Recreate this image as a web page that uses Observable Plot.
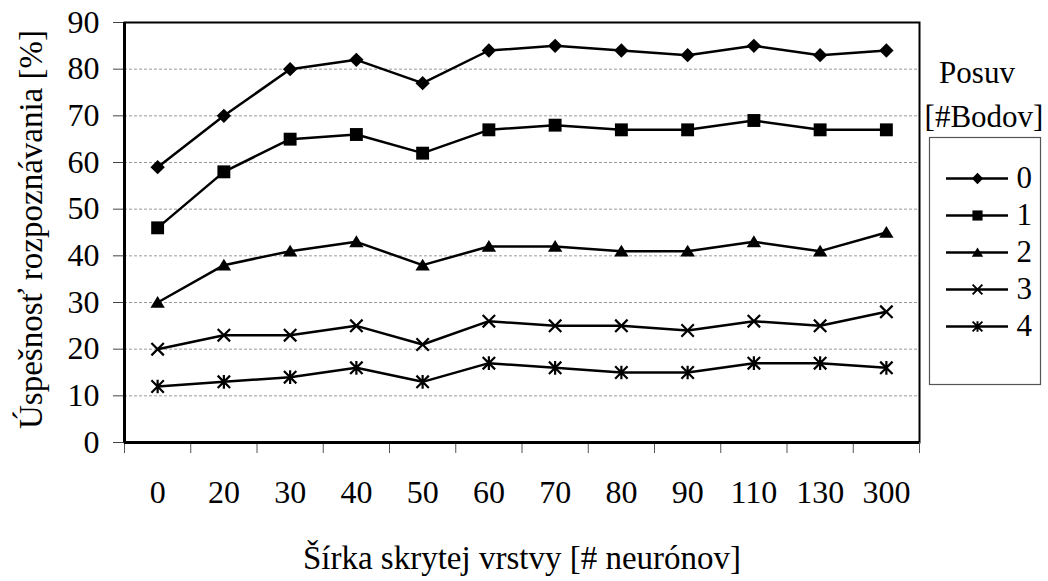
<!DOCTYPE html>
<html><head><meta charset="utf-8">
<script src="https://cdn.jsdelivr.net/npm/d3@7"></script>
<script src="https://cdn.jsdelivr.net/npm/@observablehq/plot@0.6"></script>
<style>
body{margin:0;background:#fff}
#wrap{position:relative;width:1048px;height:581px;font-family:"Liberation Serif","Times New Roman",Times,serif;color:#000}
#wrap svg, #wrap svg text{font-family:"Liberation Serif","Times New Roman",Times,serif !important}
.lt{position:absolute;font-size:31px;line-height:1;transform:translate(-50%,-50%);white-space:nowrap}
</style>
</head><body><div id="wrap"></div>
<script>
const categories = ["0","20","30","40","50","60","70","80","90","110","130","300"];
const seriesNames = ["0","1","2","3","4"];
const series0 = [59,70,80,82,77,84,85,84,83,85,83,84];
const series1 = [46,58,65,66,62,67,68,67,67,69,67,67];
const series2 = [30,38,41,43,38,42,42,41,41,43,41,45];
const series3 = [20,23,23,25,21,26,25,25,24,26,25,28];
const series4 = [12,13,14,16,13,17,16,15,15,17,17,16];
const yTicks = [0,10,20,30,40,50,60,70,80,90];
const gridTicks = [10,20,30,40,50,60,70,80];
const xTitle = "Šírka skrytej vrstvy [# neurónov]";
const yTitle = "Úspešnosť rozpoznávania [%]";
const legendTitle1 = "Posuv";
const legendTitle2 = "[#Bodov]";

const FONT = "'Liberation Serif', 'Times New Roman', Times, serif";

const allSeries = [series0, series1, series2, series3, series4];
const rows = [];
allSeries.forEach((vals, s) => vals.forEach((v, i) => rows.push({i, cat: categories[i], series: seriesNames[s], value: v})));
const filledSet = new Set(["0","1","2"]);

const diamondSym = {draw(c, size){const h=Math.sqrt(size)*0.58; c.moveTo(0,-h);c.lineTo(h,0);c.lineTo(0,h);c.lineTo(-h,0);c.closePath();}};
const squareSym = {draw(c, size){const h=Math.sqrt(size)*0.52; c.rect(-h,-h,2*h,2*h);}};
const triangleSym = {draw(c, size){const w=Math.sqrt(size)*0.58, h=Math.sqrt(size)*0.95; c.moveTo(0,-h*0.55);c.lineTo(w,h*0.45);c.lineTo(-w,h*0.45);c.closePath();}};
const timesSym = {draw(c, size){const h=Math.sqrt(size)*0.5; c.moveTo(-h,-h);c.lineTo(h,h);c.moveTo(h,-h);c.lineTo(-h,h);}};
const asteriskSym = {draw(c, size){const h=Math.sqrt(size)*0.5; c.moveTo(-h,-h);c.lineTo(h,h);c.moveTo(h,-h);c.lineTo(-h,h);c.moveTo(0,-h*1.1);c.lineTo(0,h*1.1);}};
const symbolRange = [diamondSym, squareSym, triangleSym, timesSym, asteriskSym];

const boundaries = d3.range(13).map(k => k - 0.5);
const centers = d3.range(12);

const chart = Plot.plot({
  width: 1048, height: 581,
  marginLeft: 124, marginRight: 129, marginTop: 22, marginBottom: 139,
  x: {type: "linear", domain: [-0.5, 11.5], axis: null},
  y: {domain: [0, 90], axis: null},
  symbol: {domain: seriesNames, range: symbolRange},
  style: {fontFamily: FONT, fontSize: "32px", color: "black", background: "white"},
  marks: [
    Plot.gridY(gridTicks, {stroke: "#9a9a9a", strokeOpacity: 1, strokeDasharray: "3,2", strokeWidth: 1}),
    Plot.frame({stroke: "black", strokeWidth: 2}),
    Plot.axisY({ticks: yTicks, tickSize: 11, tickPadding: 14, tickFormat: d => String(d), fontSize: 32, label: null, stroke: "#444"}),
    Plot.axisX({ticks: boundaries, tickSize: 11, tickFormat: () => "", label: null, stroke: "#555"}),
    Plot.axisX({ticks: centers, tickSize: 0, tickPadding: 38, tickFormat: i => categories[i], fontSize: 32, label: null}),
    Plot.ruleY([0], {stroke: "black", strokeWidth: 3}),
    Plot.ruleX([-0.5], {stroke: "black", strokeWidth: 3}),
    Plot.line(rows, {x: "i", y: "value", z: "series", stroke: "black", strokeWidth: 2.5}),
    Plot.dot(rows.filter(d => filledSet.has(d.series)), {x: "i", y: "value", symbol: "series", r: 7, fill: "black", stroke: "none"}),
    Plot.dot(rows.filter(d => !filledSet.has(d.series)), {x: "i", y: "value", symbol: "series", r: 7, fill: "none", stroke: "black", strokeWidth: 2.2}),
    Plot.text([xTitle], {frameAnchor: "bottom", dy: 116, lineAnchor: "middle", fontSize: 33}),
    Plot.text([yTitle], {frameAnchor: "left", dx: -93, dy: -3, rotate: -90, lineAnchor: "middle", textAnchor: "middle", fontSize: 33})
  ]
});

const legend = Plot.plot({
  width: 113, height: 249,
  margin: 1,
  x: {type: "linear", domain: [0, 1], range: [18, 80], axis: null},
  y: {type: "point", domain: seriesNames, range: [23, 209], axis: null},
  symbol: {domain: seriesNames, range: symbolRange},
  style: {fontFamily: FONT, fontSize: "31px", color: "black", background: "white", overflow: "visible"},
  marks: [
    Plot.frame({stroke: "#555", strokeWidth: 1.2}),
    Plot.ruleY(seriesNames, {y: d => d, x1: 0, x2: 1, stroke: "black", strokeWidth: 2.5}),
    Plot.dot(seriesNames.filter(s => filledSet.has(s)), {x: () => 0.5, y: d => d, symbol: d => d, r: 5.5, fill: "black", stroke: "none"}),
    Plot.dot(seriesNames.filter(s => !filledSet.has(s)), {x: () => 0.5, y: d => d, symbol: d => d, r: 5.5, fill: "none", stroke: "black", strokeWidth: 2}),
    Plot.text(seriesNames, {x: () => 1, y: d => d, text: d => d, textAnchor: "start", dx: 8, fontSize: 31})
  ]
});

const wrap = document.getElementById("wrap");
wrap.appendChild(chart);
legend.style.position = "absolute";
legend.style.left = "928px";
legend.style.top = "136px";
wrap.appendChild(legend);
const t1 = document.createElement("div"); t1.className = "lt"; t1.textContent = legendTitle1; t1.style.left = "977px"; t1.style.top = "72px";
const t2 = document.createElement("div"); t2.className = "lt"; t2.textContent = legendTitle2; t2.style.left = "984px"; t2.style.top = "116px";
wrap.appendChild(t1); wrap.appendChild(t2);
</script>
</body></html>
